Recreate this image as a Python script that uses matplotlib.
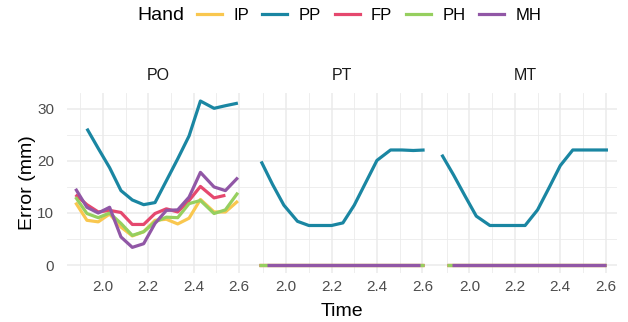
import numpy as np
import matplotlib
matplotlib.use("Agg")
import matplotlib.pyplot as plt
from matplotlib.lines import Line2D
from matplotlib.ticker import MultipleLocator

plt.rcParams['font.family'] = ['Liberation Sans', 'DejaVu Sans']

hands = ["IP", "PP", "FP", "PH", "MH"]
colors = {"IP": "#F9C74F", "PP": "#1A86A2", "FP": "#E5486E", "PH": "#96CF5F", "MH": "#9157A6"}
panels = ["PO", "PT", "MT"]

# ---- PO panel ----
time_po = [1.88, 1.93, 1.98, 2.03, 2.08, 2.13, 2.18, 2.23, 2.28, 2.33, 2.38, 2.43, 2.49, 2.54, 2.595]
po_ip = [12.0, 8.6, 8.3, 9.8, 7.3, 5.6, 6.4, 8.6, 8.8, 7.9, 9.0, 12.6, 10.2, 10.2, 12.3]
po_pp = [np.nan, 26.2, 22.4, 18.7, 14.3, 12.5, 11.6, 12.0, 16.2, 20.4, 24.8, 31.5, 30.1, 30.6, 31.1]
po_fp = [13.5, 11.6, 10.2, 10.5, 10.1, 7.8, 7.8, 9.9, 10.8, 10.2, 12.4, 15.1, 12.9, 13.4, np.nan]
po_ph = [13.05, 9.9, 9.1, 10.0, 8.0, 5.7, 6.4, 8.3, 9.2, 9.1, 11.8, 12.4, 9.9, 10.6, 13.9]
po_mh = [14.65, 11.1, 10.0, 11.1, 5.4, 3.4, 4.1, 8.0, 10.5, 10.6, 13.05, 17.8, 15.0, 14.3, 16.8]

# ---- PT panel ----
time_pt = [1.89, 1.94, 1.99, 2.05, 2.10, 2.15, 2.20, 2.25, 2.30, 2.35, 2.40, 2.46, 2.51, 2.56, 2.61]
pt_pp = [19.9, 15.5, 11.5, 8.4, 7.6, 7.6, 7.6, 8.1, 11.5, 15.8, 20.1, 22.1, 22.1, 22.0, 22.1]
time_pt_zero = [1.882, 1.915, 2.59, 2.606]
pt_ip = [0, 0, 0, 0]
pt_fp = [0, 0, 0, 0]
pt_ph = [0, 0, 0, 0]
pt_mh = [np.nan, 0, 0, np.nan]

# ---- MT panel ----
time_mt = [1.878, 1.93, 1.98, 2.03, 2.09, 2.14, 2.19, 2.245, 2.30, 2.35, 2.40, 2.455, 2.51, 2.56, 2.61]
mt_pp = [21.2, 17.3, 13.3, 9.4, 7.6, 7.6, 7.6, 7.6, 10.6, 14.8, 19.1, 22.1, 22.1, 22.1, 22.1]
time_mt_zero = [1.903, 1.925, 2.60]
mt_ip = [0, 0, 0]
mt_fp = [0, 0, 0]
mt_ph = [0, 0, 0]
mt_mh = [np.nan, 0, 0]

data = {
    "PO": [(time_po, po_ip, "IP"), (time_po, po_pp, "PP"), (time_po, po_fp, "FP"),
           (time_po, po_ph, "PH"), (time_po, po_mh, "MH")],
    "PT": [(time_pt_zero, pt_ip, "IP"), (time_pt, pt_pp, "PP"), (time_pt_zero, pt_fp, "FP"),
           (time_pt_zero, pt_ph, "PH"), (time_pt_zero, pt_mh, "MH")],
    "MT": [(time_mt_zero, mt_ip, "IP"), (time_mt, mt_pp, "PP"), (time_mt_zero, mt_fp, "FP"),
           (time_mt_zero, mt_ph, "PH"), (time_mt_zero, mt_mh, "MH")],
}

W, H = 628, 322
fig = plt.figure(figsize=(W / 100, H / 100), dpi=100)

left_px, right_px, top_px, bot_px = 66.7, 616.7, 92.7, 273.3
pw = (right_px - left_px) / 3
grid_col = "#EBEBEB"
LW = 2.3
for i, p in enumerate(panels):
    ax = fig.add_axes([(left_px + i * pw) / W, 1 - bot_px / H, pw / W, (bot_px - top_px) / H])
    for t, v, h in data[p]:
        ax.plot(t, v, color=colors[h], lw=LW, solid_capstyle='butt', solid_joinstyle='round', zorder=3)
    ax.set_xlim(1.841, 2.6485)
    ax.set_ylim(-1.58, 33.1)
    ax.xaxis.set_minor_locator(MultipleLocator(0.1))
    ax.yaxis.set_minor_locator(MultipleLocator(5))
    ax.set_xticks([2.0, 2.2, 2.4, 2.6])
    ax.set_xticklabels(["2.0", "2.2", "2.4", "2.6"])
    ax.set_yticks([0, 10, 20, 30])
    ax.grid(which='major', color=grid_col, lw=1.1, zorder=0)
    ax.grid(which='minor', color=grid_col, lw=0.6, zorder=0)
    for s in ax.spines.values():
        s.set_visible(False)
    ax.tick_params(which='both', length=0, labelsize=11, labelcolor="#4D4D4D")
    ax.tick_params(axis='x', pad=5)
    ax.tick_params(axis='y', pad=9)
    ax.set_facecolor('none')
    if i > 0:
        ax.tick_params(axis='y', labelleft=False)
    ax.text(0.5, 1 + 17.7 / (bot_px - top_px), p, transform=ax.transAxes,
            ha='center', va='center', fontsize=11.5, color="#1A1A1A")

fig.text((left_px + right_px) / 2 / W, 1 - 311 / H, "Time", ha='center', va='center', fontsize=14)
fig.text(27 / W, 1 - (top_px + bot_px) / 2 / H, "Error (mm)", ha='center', va='center',
         rotation=90, fontsize=14)

handles = [Line2D([0], [0], color=colors[h], lw=LW) for h in hands]
fig.text(184 / W, 1 - 15 / H, "Hand", ha='right', va='center', fontsize=14)
fig.legend(handles, hands, ncol=5, frameon=False, loc='center left',
           bbox_to_anchor=(196.7 / W, 1 - 15 / H), fontsize=12, handlelength=1.5,
           handletextpad=0.68, columnspacing=0.82, borderpad=0, borderaxespad=0)

fig.savefig("out.png", dpi=100)
